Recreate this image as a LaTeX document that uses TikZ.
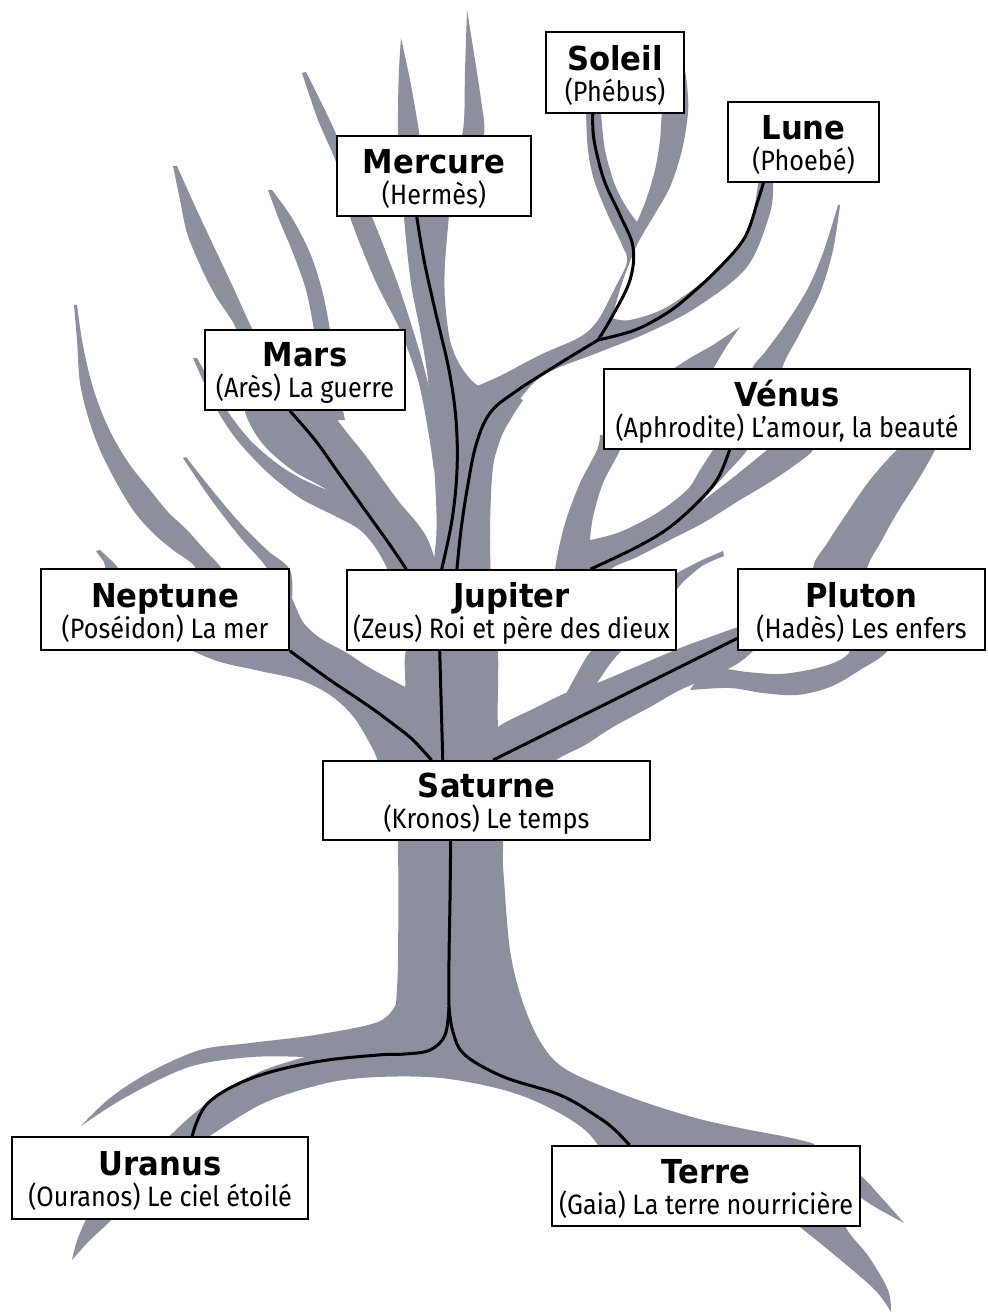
\documentclass[tikz,border=0pt]{standalone}
\usepackage{fontspec}
\usetikzlibrary{calc}
\newfontfamily\ttlfnt[FakeStretch=0.93]{DejaVu Sans}
\newfontfamily\subfnt[FakeStretch=0.9]{Fira Sans}
\definecolor{treeC}{RGB}{139,143,158}
\newcommand\boxtext[2]{\vbox{\kern6pt\baselineskip=31pt\lineskiplimit=-30pt\halign{\hfil##\hfil\cr\ttlfnt\bfseries\fontsize{33}{33}\selectfont #1\cr\subfnt\fontsize{28}{28}\selectfont #2\cr}}}
\begin{document}
\begin{tikzpicture}[x=1pt,y=-1pt,
  tree/.style={fill=treeC},
  sm/.style={smooth,tension=0.55},
  gbox/.style={draw=black, line width=1.8pt, fill=white, inner sep=0pt},
  conn/.style={draw=black, line width=3pt, line join=round}]
\useasboundingbox (0,0) rectangle (987,1313);
\fill[white] (0,0) rectangle (987,1313);

% ---- tree ----
% lower trunk and roots
\fill[tree] plot[sm] coordinates {(385,745) (394,790) (398,850) (398,960) (396,1004)}
 -- plot[sm] coordinates {(396,1004) (378,1022) (315,1035) (250,1043) (200,1050) (150,1072) (110,1098) (81,1126)}
 -- plot[sm] coordinates {(81,1126) (126,1097) (189,1067) (252,1057) (305,1057)}
 -- plot[sm] coordinates {(305,1057) (264,1070) (225,1090) (190,1117) (160,1145) (120,1180) (92,1210) (78,1238) (72,1260)}
 -- plot[sm] coordinates {(72,1260) (90,1240) (112,1219) (150,1175) (208,1137) (264,1103) (327,1083) (378,1077) (441,1078) (504,1090) (548,1107) (585,1130) (610,1160) (650,1200) (720,1218) (800,1227)}
 -- plot[sm] coordinates {(800,1227) (837,1257) (875,1290) (891,1312)}
 -- plot[sm] coordinates {(891,1312) (888,1290) (869,1257) (845,1225) (855,1200) (860,1197)}
 -- plot[sm] coordinates {(860,1197) (875,1207) (904,1223)}
 -- plot[sm] coordinates {(904,1223) (881,1197) (860,1175) (830,1155) (812,1143)}
 -- plot[sm] coordinates {(812,1143) (787,1137) (740,1128) (692,1117) (630,1097) (567,1070) (541,1043) (522,1000) (510,950) (504,880) (503,850) (508,800) (553,762) (553,745)}
 -- cycle;
% upper trunk column and Mercure stem
\fill[tree] plot[sm] coordinates {(403,205) (407,250) (412,290) (420,330) (428,380) (431,437) (435,480) (436,540) (425,610) (406,650) (405,690) (398,740) (392,800)}
 -- plot[sm] coordinates {(510,800) (505,760) (498,727) (498,650) (492,600) (490,533) (493,467) (503,433) (523,400)}
 -- plot[sm] coordinates {(523,400) (500,390) (477,385) (460,365) (450,340) (445,300) (445,263) (450,205)}
 -- cycle;
% two tips above Mercure
\fill[tree] plot[sm] coordinates {(400,205) (398,160) (398,110) (399,70) (401,38)} -- plot[sm] coordinates {(401,38) (410,80) (418,125) (425,170) (440,205)} -- cycle;
\fill[tree] plot[sm] coordinates {(420,205) (450,170) (463,130) (465,70) (467,10)} -- plot[sm] coordinates {(467,10) (475,60) (481,100) (484,136) (470,180) (450,210)} -- cycle;
% G branch left of Mercure
\fill[tree] plot[sm] coordinates {(302,73) (318,120) (337,165) (350,217) (375,280) (400,330) (418,380) (428,430) (434,470)} -- plot[sm] coordinates {(445,470) (432,400) (420,353)} -- plot[sm] coordinates {(420,353) (400,290) (372,217) (348,165) (333,127) (306,72)} -- cycle;
% D branch and Mars band
\fill[tree] plot[sm] coordinates {(173,166) (180,200) (187,233) (200,265) (215,295) (238,333) (243,380) (245,412) (262,443) (292,470) (327,490) (355,515) (378,545) (392,575) (400,600)}
 -- plot[sm] coordinates {(440,600) (436,565) (428,540) (417,523) (400,503) (383,480) (365,455) (345,430) (333,412) (325,380)}
 -- plot[sm] coordinates {(325,380) (290,350) (262,335) (253,330) (233,287) (200,217) (177,166)} -- cycle;
% F branch
\fill[tree] plot[sm] coordinates {(268,190) (280,222) (293,253) (306,290) (314,330) (322,380) (330,420)} -- plot[sm] coordinates {(345,420) (337,380) (330,330) (322,290) (310,253) (292,218) (272,190)} -- cycle;
% E branch
\fill[tree] plot[sm] coordinates {(193,358) (205,385) (217,410) (237,440) (267,472) (300,498) (335,516) (360,530) (377,550) (390,575) (398,600)}
 -- plot[sm] coordinates {(430,600) (400,545) (360,512) (327,490)}
 -- plot[sm] coordinates {(327,490) (300,478) (275,462) (250,440) (228,412) (212,385) (197,358)} -- cycle;
% A branch (far left)
\fill[tree] plot[sm] coordinates {(74,305) (77,340) (80,383) (89,420) (100,450) (115,480) (133,510) (152,532) (173,550) (195,567) (210,600)} -- plot[sm] coordinates {(240,600) (222,569) (205,550) (187,530) (168,512) (150,490) (130,465) (113,437) (100,408) (90,377) (82,340) (77,305)} -- cycle;
% B branch
\fill[tree] plot[sm] coordinates {(183,458) (210,498) (240,537) (268,570) (275,600)} -- plot[sm] coordinates {(292,600) (290,570) (267,550) (240,523) (212,490) (186,457)} -- cycle;
% C spur
\fill[tree] (96,551) -- (104,562) -- (108,580) -- (128,580) -- (114,563) -- (100,550) -- cycle;
% Neptune limb
\fill[tree] plot[sm] coordinates {(180,645) (217,661) (260,671) (300,680) (330,695) (352,715) (368,740) (378,762) (385,800)}
 -- plot[sm] coordinates {(440,800) (435,720) (405,687)}
 -- plot[sm] coordinates {(405,687) (370,668) (347,653) (320,638) (303,622) (290,595) (280,590)} -- cycle;
% Soleil / Lune limb
\fill[tree] plot[sm] coordinates {(468,440) (477,386)}
 -- plot[sm] coordinates {(477,386) (500,376) (540,355) (580,337) (598,320) (614,290) (627,262) (622,245) (607,213) (594,180) (588,150) (586,113) (586,95)}
 -- (601,95) -- plot[sm] coordinates {(601,113) (605,150) (615,185) (627,208) (637,222)}
 -- plot[sm] coordinates {(637,222) (646,200) (655,170) (660,140) (662,113) (668,80) (678,46)}
 -- plot[sm] coordinates {(678,46) (683,60) (687,85) (688,113) (682,150) (670,187) (653,217) (637,245) (622,283) (612,318)}
 -- plot[sm] coordinates {(612,318) (630,320) (667,307) (713,273) (747,233) (758,185) (758,170)}
 -- (773,170) -- plot[sm] coordinates {(773,183) (770,213) (747,267) (697,307) (647,333) (597,353) (547,373) (523,395) (505,425) (493,460) (480,470)} -- cycle;
% branch right of Lune
\fill[tree] plot[sm] coordinates {(838,205) (823,253) (807,290) (785,325) (765,352) (752,369) (745,400)} -- plot[sm] coordinates {(785,400) (782,369) (800,333) (820,293) (833,250) (840,205)} -- cycle;
% twig above Venus
\fill[tree] (740,327) -- (713,345) -- (690,358) -- (673,369) -- (665,390) -- (705,390) -- (713,369) -- (726,347) -- cycle;
% branches below Venus
\fill[tree] plot[sm] coordinates {(600,435) (597,450) (580,483) (567,517) (560,543) (555,570) (555,590)}
 -- plot[sm] coordinates {(612,590) (610,570) (637,557) (670,540) (703,523) (740,500) (770,482) (795,465) (813,450) (813,435)}
 -- (767,435) -- plot[sm] coordinates {(767,450) (735,476) (700,503)}
 -- plot[sm] coordinates {(700,503) (725,475) (747,450) (747,435)}
 -- (713,435) -- plot[sm] coordinates {(713,450) (700,470) (687,490) (657,513) (620,532) (590,540)}
 -- plot[sm] coordinates {(590,540) (593,517) (603,483) (620,450) (622,435)} -- cycle;
% branch V2 and twig right of Jupiter
\fill[tree] plot[sm] coordinates {(723,551) (700,561) (677,573)} -- plot[sm] coordinates {(660,585) (630,610) (592,650) (578,672) (560,705)} -- (605,700) -- plot[sm] coordinates {(597,683) (610,664) (622,650) (655,615) (682,583)} -- plot[sm] coordinates {(682,583) (702,566) (724,556)} -- cycle;
% Pluton limb
\fill[tree] plot[sm] coordinates {(470,800) (520,792) (553,762) (585,745) (613,727) (650,707) (680,690) (713,676) (737,664) (752,652) (762,640)}
 -- plot[sm] coordinates {(762,620) (738,627) (710,637) (680,648) (640,665) (597,683) (568,692) (535,708) (498,727) (488,745) (470,765)} -- cycle;
% drooping branch and far right branch
\fill[tree] plot[sm] coordinates {(690,690) (730,688) (763,693) (797,695) (830,687) (860,670) (888,650) (892,620)}
 -- plot[sm] coordinates {(880,595) (867,570) (882,540) (897,513) (918,480) (935,450) (948,420) (952,400)}
 -- plot[sm] coordinates {(952,400) (925,430) (897,450) (870,480) (847,513) (828,542) (813,570) (830,610)}
 -- plot[sm] coordinates {(840,630) (850,650) (838,661) (813,669) (780,674) (747,672) (722,669) (700,675)} -- cycle;

% ---- boxes ----
\node[gbox, minimum width=138pt, minimum height=81pt] (sol) at (615,72.5) {\boxtext{Soleil}{(Phébus)}};
\node[gbox, minimum width=151pt, minimum height=80pt] (lune) at (803.5,142) {\boxtext{Lune}{(Phoebé)}};
\node[gbox, minimum width=194pt, minimum height=80pt] (merc) at (434,176) {\boxtext{Mercure}{(Hermès)}};
\node[gbox, minimum width=200pt, minimum height=80pt] (mars) at (305,370) {\boxtext{Mars}{(Arès) La guerre}};
\node[gbox, minimum width=366pt, minimum height=80pt] (ven) at (787,409) {\boxtext{Vénus}{(Aphrodite) L’amour, la beauté}};
\node[gbox, minimum width=248pt, minimum height=81pt] (nep) at (165,609.5) {\boxtext{Neptune}{(Poséidon) La mer}};
\node[gbox, minimum width=329pt, minimum height=80pt] (jup) at (511.5,610) {\boxtext{Jupiter}{(Zeus) Roi et père des dieux}};
\node[gbox, minimum width=247pt, minimum height=81pt] (plu) at (861.5,609.5) {\boxtext{Pluton}{(Hadès) Les enfers}};
\node[gbox, minimum width=327pt, minimum height=79pt] (sat) at (486.5,800.5) {\boxtext{Saturne}{(Kronos) Le temps}};
\node[gbox, minimum width=296pt, minimum height=82pt] (ura) at (160,1178) {\boxtext{Uranus}{(Ouranos) Le ciel étoilé}};
\node[gbox, minimum width=308pt, minimum height=80pt] (ter) at (706,1186) {\boxtext{Terre}{(Gaia) La terre nourricière}};

% ---- attachment points ----
\coordinate (mercB) at ($(merc.south west)!0.412!(merc.south east)$);
\coordinate (solB) at ($(sol.south west)!0.341!(sol.south east)$);
\coordinate (luneB) at ($(lune.south west)!0.238!(lune.south east)$);
\coordinate (marsB) at ($(mars.south west)!0.425!(mars.south east)$);
\coordinate (venB) at ($(ven.south west)!0.344!(ven.south east)$);
\coordinate (jupT0) at ($(jup.north west)!0.182!(jup.north east)$);
\coordinate (jupT1) at ($(jup.north west)!0.289!(jup.north east)$);
\coordinate (jupT2) at ($(jup.north west)!0.335!(jup.north east)$);
\coordinate (jupT3) at ($(jup.north west)!0.739!(jup.north east)$);
\coordinate (jupB) at ($(jup.south west)!0.283!(jup.south east)$);
\coordinate (pluL) at ($(plu.south west)!0.15!(plu.north west)$);
\coordinate (satT0) at ($(sat.north west)!0.333!(sat.north east)$);
\coordinate (satT1) at ($(sat.north west)!0.367!(sat.north east)$);
\coordinate (satT2) at ($(sat.north west)!0.52!(sat.north east)$);
\coordinate (satB) at ($(sat.south west)!0.391!(sat.south east)$);
\coordinate (uraT) at ($(ura.north west)!0.608!(ura.north east)$);
\coordinate (terT) at ($(ter.north west)!0.253!(ter.north east)$);
\coordinate (sjunc) at (598,340);
\coordinate (rootsplit) at (449,1007);

% ---- connectors ----
\draw[conn] plot[smooth,tension=0.6] coordinates {(mercB) (424,260) (435,310) (449,370) (456,420) (457,470) (452,520) (jupT1)};
\draw[conn] plot[smooth,tension=0.6] coordinates {(solB) (594,140) (604,180) (620,215) (633,247) (630,280) (613,315) (sjunc)};
\draw[conn] plot[smooth,tension=0.6] coordinates {(sjunc) (557,365) (515,392) (490,413) (476,445) (467,490) (461,530) (jupT2)};
\draw[conn] plot[smooth,tension=0.6] coordinates {(luneB) (758,200) (745,237) (720,267) (690,295) (667,313) (635,330) (sjunc)};
\draw[conn] plot[smooth,tension=0.6] coordinates {(marsB) (315,440) (340,475) (365,510) (390,545) (jupT0)};
\draw[conn] plot[smooth,tension=0.6] coordinates {(venB) (718,478) (700,500) (670,527) (637,547) (jupT3)};
\draw[conn] (jupB) -- (satT1);
\draw[conn] plot[smooth,tension=0.6] coordinates {(nep.south east) (330,680) (370,707) (397,727) (413,740) (satT0)};
\draw[conn] (pluL) -- (satT2);
\draw[conn] plot[smooth,tension=0.6] coordinates {(satB) (450,900) (449,960) (rootsplit)};
\draw[conn] plot[smooth,tension=0.6] coordinates {(rootsplit) (445,1035) (430,1050) (405,1054) (378,1055) (315,1062) (252,1078) (208,1103) (uraT)};
\draw[conn] plot[smooth,tension=0.6] coordinates {(rootsplit) (453,1032) (465,1055) (504,1077) (560,1095) (598,1117) (615,1130) (terT)};
\end{tikzpicture}
\end{document}
